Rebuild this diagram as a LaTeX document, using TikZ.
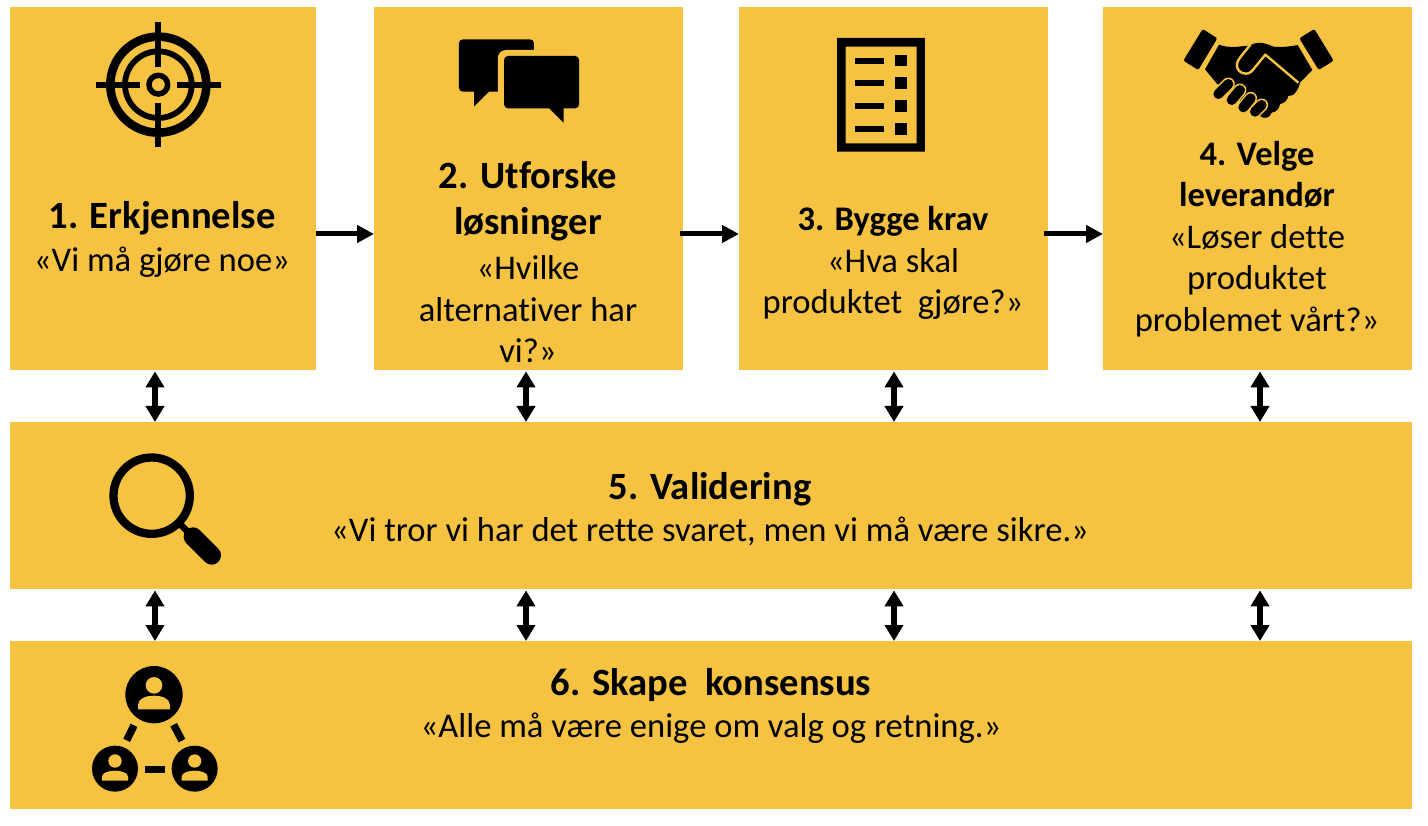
\documentclass[tikz,border=0pt]{standalone}
\usepackage{fontspec}
\setmainfont{Carlito}[Ligatures=CommonOff]
\usetikzlibrary{arrows.meta}
\definecolor{gold}{HTML}{F5C242}
\tikzset{
  box/.style={fill=gold,draw=none,inner sep=0pt,anchor=north west},
  txt/.style={inner sep=0pt,align=center,anchor=center,font=\fontsize{34.6}{41.5}\selectfont},
  hflow/.style={line width=5pt,-{Triangle[width=17pt,length=17pt]}},
  vflow/.style={line width=6pt,{Triangle[width=18pt,length=16pt]}-{Triangle[width=18pt,length=16pt]},shorten <=1pt,shorten >=0pt},
  zoomed/.style={x=0.33333pt,y=-0.33333pt},
  zoomedb/.style={x=0.34435pt,y=-0.33333pt}
}
\newcommand{\hdA}[1]{{\fontsize{38.6}{41.5}\selectfont\bfseries #1}}
\newcommand{\hdB}[1]{{\fontsize{34.5}{41.5}\selectfont\bfseries #1}}
\begin{document}
\begin{tikzpicture}[x=1pt,y=-1pt]
\useasboundingbox (0,0) rectangle (1428,826);
% boxes
\node[box,minimum width=306pt,minimum height=363pt] (b1) at (10,7) {};
\node[box,minimum width=309pt,minimum height=363pt] (b2) at (374,7) {};
\node[box,minimum width=309pt,minimum height=363pt] (b3) at (739,7) {};
\node[box,minimum width=309pt,minimum height=363pt] (b4) at (1103,7) {};
\node[box,minimum width=1402pt,minimum height=167pt] (b5) at (10,422) {};
\node[box,minimum width=1402pt,minimum height=168pt] (b6) at (10,641) {};
% connector guides
\coordinate (ah) at (0,234);
\coordinate (c1) at (155,0);
\coordinate (c2) at (526,0);
\coordinate (c3) at (894,0);
\coordinate (c4) at (1260,0);
\draw[hflow] (b1.east|-ah) -- (b2.west|-ah);
\draw[hflow,shorten <=-3pt] (b2.east|-ah) -- (b3.west|-ah);
\draw[hflow,shorten <=-4pt] (b3.east|-ah) -- (b4.west|-ah);
\foreach \c/\t in {c1/b1,c2/b2,c3/b3,c4/b4}{
  \draw[vflow] (\t.south-|\c) -- (b5.north-|\c);
  \draw[vflow] (b5.south-|\c) -- (b6.north-|\c);
}
% text
\node[txt] (t1) at (162,239.5) {\hdA{1. Erkjennelse}\\[1pt]«Vi må gjøre noe»};
\node[txt] (t2) at (528,262.5) {\hdA{2. Utforske}\\[4pt]\hdA{løsninger}\\[4pt]«Hvilke\\alternativer har\\vi?»};
\node[txt] (t3) at (893,263) {\hdB{3. Bygge krav}\\«Hva skal\\produktet\ \ gjøre?»};
\node[txt] (t4) at (1257,239) {\hdB{4. Velge}\\\hdB{leverandør}\\«Løser dette\\produktet\\problemet vårt?»};
\node[txt] (t5) at (710,509) {\hdA{5. Validering}\\[1pt]«Vi tror vi har det rette svaret, men vi må være sikre.»};
\node[txt] (t6) at (711,706) {\hdA{6. Skape\ \ konsensus}\\[1pt]«Alle må være enige om valg og retning.»};
% target icon
\begin{scope}[shift={(0,0)},zoomed]
\draw[line width=8.6pt] (475,254) circle (144);
\draw[line width=5.8pt] (475,254) circle (100);
\draw[line width=5.5pt] (475,254) circle (28);
\fill (289,245) rectangle (420,263);
\fill (530,245) rectangle (662,263);
\fill (466,67) rectangle (484,200);
\fill (466,310) rectangle (484,442);
\end{scope}
% chat icon
\begin{scope}[shift={(420,10)},zoomedb]
\fill[rounded corners=4pt] (113,88) rectangle (331,245);
\fill (157,240) -- (157,290) -- (200,245) -- (200,240) -- cycle;
\fill[gold,rounded corners=8pt] (226,120) rectangle (480,313);
\fill[rounded corners=4pt] (244,138) rectangle (462,295);
\fill (375,290) -- (375,295) -- (417,338) -- (417,290) -- cycle;
\end{scope}
% list icon
\begin{scope}[shift={(420,10)},zoomedb]
\fill[even odd rule] (1211,84) rectangle (1466,425) (1236,110) rectangle (1442,400);
\foreach \y in {152,220,289,357}{
  \fill (1264,\y-9) rectangle (1347,\y+9);
  \fill (1380,\y-17.5) rectangle (1413,\y+17.5);
}
\end{scope}
% handshake icon
\begin{scope}[shift={(1160,10)},zoomed]
\fill[rounded corners=2pt] (128,57) -- (172,85) -- (115,180) -- (70,152) -- cycle;
\fill[rounded corners=2pt] (463,57) -- (418,85) -- (476,180) -- (521,152) -- cycle;
\fill (177,104) .. controls (205,115) and (235,110) .. (265,107) -- (285,100)
  .. controls (300,96) and (320,100) .. (340,110)
  .. controls (365,112) and (390,110) .. (413,105) -- (457,180) -- (420,218)
  .. controls (418,230) and (412,240) .. (408,245) .. controls (402,255) and (395,258) .. (385,258)
  .. controls (382,272) and (372,280) .. (360,282) .. controls (358,298) and (348,306) .. (335,308)
  .. controls (330,322) and (315,330) .. (300,318) -- (170,220) -- (135,178) -- cycle;
% thumb outline
\draw[gold,line width=2.4pt,line join=round] (272,103) -- (240,143) .. controls (222,165) and (232,190) .. (258,191) .. controls (270,191) and (278,182) .. (285,172) -- (316,134) -- (415,218);
% fingers
\foreach \a/\b/\c/\d in {175/252/205/222,215/270/240/240,250/292/272/265,285/305/305/285}{
  \draw[gold,line width=13pt,line cap=round] (\a,\b) -- (\c,\d);
}
\foreach \a/\b/\c/\d in {175/252/205/222,215/270/240/240,250/292/272/265,285/305/305/285}{
  \draw[line width=10pt,line cap=round] (\a,\b) -- (\c,\d);
}
\end{scope}
% magnifier icon
\begin{scope}[shift={(70,360)},zoomed]
\draw[line width=8.3pt] (245,407) circle (114.5);
\draw[line width=6.5pt] (330,492) -- (370,532);
\draw[line width=18.7pt,line cap=round] (369,530) -- (425,586);
\end{scope}
% consensus icon
\begin{scope}[shift={(70,650)},zoomed]
\fill (252,134) circle (86);
\fill[gold] (252,106) circle (25);
\fill[gold] (204,178) -- (204,165) .. controls (204,145) and (230,137) .. (252,137) .. controls (274,137) and (300,145) .. (300,165) -- (300,178) -- cycle;
\foreach \x in {135,374}{
  \fill (\x,356) circle (69);
  \fill[gold] (\x,333) circle (20);
  \fill[gold] (\x-39,392) -- (\x-39,380) .. controls (\x-39,368) and (\x-18,362) .. (\x,362) .. controls (\x+18,362) and (\x+39,368) .. (\x+39,380) -- (\x+39,392) -- cycle;
}
\draw[line width=7.5pt] (226,358) -- (284,358);
\draw[line width=7.5pt] (192,226) -- (170,271);
\draw[line width=7.5pt] (311,224) -- (336,272);
\end{scope}
\end{tikzpicture}
\end{document}
